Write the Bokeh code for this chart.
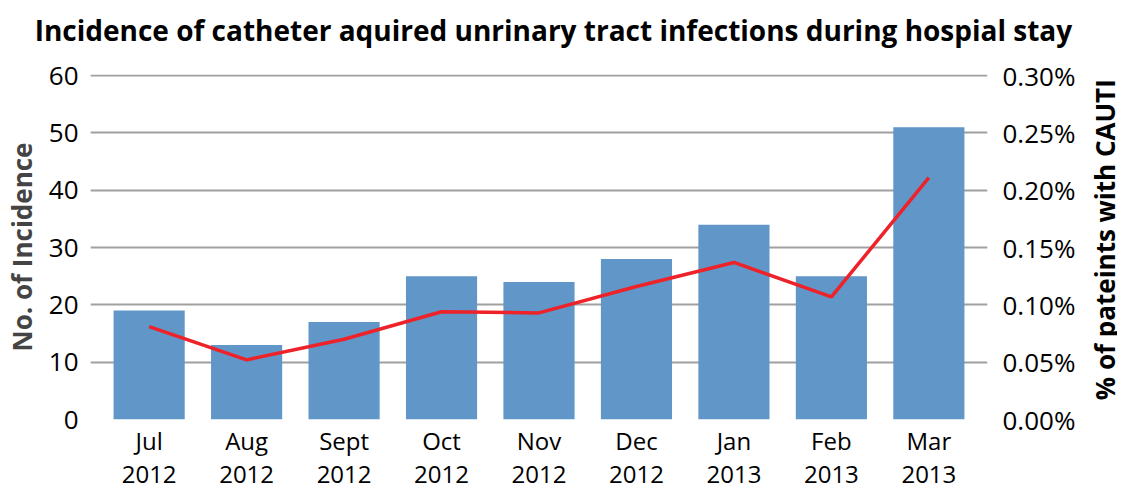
import math
from bokeh.plotting import figure
from bokeh.layouts import column, row
from bokeh.models import Range1d, LinearAxis, FixedTicker, NumeralTickFormatter, FactorRange, ColumnDataSource
from bokeh.core.properties import value
from bokeh.embed import file_html
from bokeh.resources import INLINE

months = ["Jul\n2012", "Aug\n2012", "Sept\n2012", "Oct\n2012", "Nov\n2012",
          "Dec\n2012", "Jan\n2013", "Feb\n2013", "Mar\n2013"]
incidence = [19, 13, 17, 25, 24, 28, 34, 25, 51]
pct_cauti = [0.00081, 0.00052, 0.00070, 0.00094, 0.00093, 0.00116, 0.00137, 0.00107, 0.00211]
title_text = "Incidence of catheter aquired unrinary tract infections during hospial stay"
left_title = "No. of Incidence"
right_title = "% of pateints with CAUTI"

FONT = "Open Sans"
LBL = "26px"
GRID = "#A0A0A0"
src = ColumnDataSource(dict(m=months, n=incidence, p=pct_cauti))


def blank_fig(w, h):
    f = figure(width=w, height=h, x_range=Range1d(0, 1), y_range=Range1d(0, 1),
               x_axis_location=None, y_axis_location=None, output_backend="svg",
               toolbar_location=None, min_border=0)
    f.outline_line_color = None
    f.xgrid.visible = False
    f.ygrid.visible = False
    return f


# title strip
tf = blank_fig(1117, 52)
tf.text(x=[0.495], y=[0.44], text=[title_text], text_font=value(FONT), text_font_size=value("28px"),
        text_font_style="bold", text_align="center", text_baseline="middle", text_color="black")

# main chart
p = figure(width=1085, height=440,
           x_range=FactorRange(*months, range_padding=0.0226, range_padding_units="percent"),
           y_range=Range1d(0, 60.2), output_backend="svg", toolbar_location=None,
           min_border_left=84, min_border_right=98, min_border_top=22, min_border_bottom=72)
p.outline_line_color = None

p.vbar(x="m", top="n", width=0.73, source=src, color="#6096C8", line_color=None)

p.extra_y_ranges = {"pct": Range1d(0, 0.00301)}
p.line(x="m", y="p", source=src, y_range_name="pct", color="#EE2229", line_width=3.5)

p.xgrid.grid_line_color = None
p.ygrid.grid_line_color = GRID
p.ygrid.grid_line_width = 2
p.yaxis.ticker = FixedTicker(ticks=[0, 10, 20, 30, 40, 50, 60])

for ax in [p.xaxis[0], p.yaxis[0]]:
    ax.axis_line_color = None
    ax.minor_tick_line_color = None
    ax.major_tick_line_color = None
    ax.major_tick_out = 0
    ax.major_tick_in = 0
    ax.major_label_text_font = FONT
    ax.major_label_text_font_size = LBL
    ax.major_label_text_color = "black"

p.xaxis.major_label_text_font_size = "24px"
p.xaxis.major_label_standoff = 4
p.xaxis.major_label_text_line_height = 1.0
p.xaxis.axis_label_standoff = 0

p.yaxis.major_label_standoff = 12
p.yaxis.axis_label = left_title
p.yaxis.axis_label_text_font = FONT
p.yaxis.axis_label_text_font_size = "26px"
p.yaxis.axis_label_text_font_style = "bold"
p.yaxis.axis_label_standoff = 6

ra = LinearAxis(y_range_name="pct", ticker=FixedTicker(ticks=[0, 0.0005, 0.001, 0.0015, 0.002, 0.0025, 0.003]),
                formatter=NumeralTickFormatter(format="0.00%"))
ra.axis_line_color = None
ra.major_tick_line_color = None
ra.major_tick_out = 0
ra.major_tick_in = 0
ra.minor_tick_line_color = None
ra.major_label_text_font = FONT
ra.major_label_text_font_size = LBL
ra.major_label_text_color = "black"
ra.major_label_standoff = 15
p.add_layout(ra, "right")

# right-hand axis title, reading bottom-to-top
rf = blank_fig(32, 440)
rf.text(x=[0.62], y=[0.521], text=[right_title], angle=math.pi / 2, text_font=value(FONT),
        text_font_size=value("26px"), text_font_style="bold", text_align="center",
        text_baseline="middle", text_color="black")

layout = column(tf, row(p, rf, spacing=0), spacing=0)
open("out.html", "w").write(file_html(layout, INLINE))
